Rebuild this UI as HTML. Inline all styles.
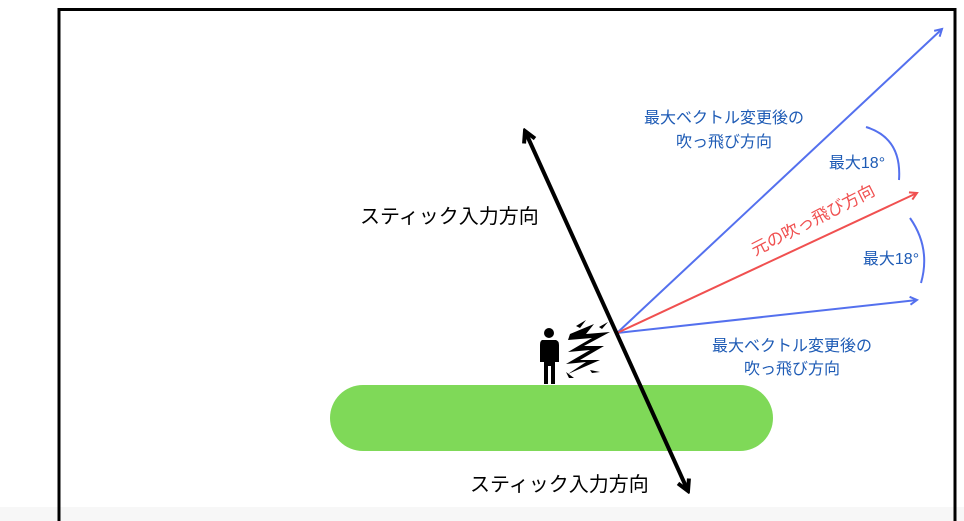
<!DOCTYPE html>
<html><head><meta charset="utf-8"><style>
html,body{margin:0;padding:0;background:#fff;}
svg{display:block;font-family:"Liberation Sans","Noto Sans CJK JP",sans-serif;}
</style></head><body>
<svg width="964" height="521" viewBox="0 0 964 521" xmlns="http://www.w3.org/2000/svg">
<defs>
<marker id="bh" markerWidth="10" markerHeight="10" refX="8" refY="5" orient="auto" markerUnits="userSpaceOnUse"><path d="M1,1 L8,5 L1,9" fill="none" stroke="#5470ee" stroke-width="2"/></marker>
<marker id="rh" markerWidth="10" markerHeight="10" refX="8" refY="5" orient="auto" markerUnits="userSpaceOnUse"><path d="M1,1 L8,5 L1,9" fill="none" stroke="#f05050" stroke-width="2"/></marker>
<marker id="kh" markerWidth="16" markerHeight="16" refX="13" refY="8" orient="auto-start-reverse" markerUnits="userSpaceOnUse"><path d="M2,2 L13,8 L2,14" fill="none" stroke="#000" stroke-width="4"/></marker>
</defs>
<rect x="0" y="507" width="964" height="14" fill="#f7f7f7"/>
<path d="M59,521 V9.5 H955 V521" fill="none" stroke="#000" stroke-width="3"/>
<rect x="330" y="385" width="443" height="66" rx="33" fill="#7fd958"/>
<g fill="#000">
<circle cx="549" cy="333" r="5"/>
<path d="M542,340 H556 Q559,341 559,345 V362 H555 V384 H551 V366 H548 V384 H544 V362 H540 V345 Q540,341 542,340Z"/>
<path d="M570,334 L594,324 L586,334 L610,332 L584,346 L604,346 L580,360 L600,360 L568,374 L586,362 L566,364 L590,350 L568,352 L592,338 L568,340Z"/>
<path d="M576,326 L586,320 L580,328Z M599,327 L608,322 L602,329Z M566,372 L574,378 L569,378Z M590,370 L600,372 L592,373Z"/>
</g>
<line x1="617" y1="333" x2="942" y2="29" stroke="#5470ee" stroke-width="2" marker-end="url(#bh)"/>
<line x1="617" y1="333" x2="917" y2="300" stroke="#5470ee" stroke-width="2" marker-end="url(#bh)"/>
<line x1="617" y1="333" x2="917" y2="193" stroke="#f05050" stroke-width="2" marker-end="url(#rh)"/>
<path d="M866,127 Q902,138 899,180" fill="none" stroke="#5470ee" stroke-width="2"/>
<path d="M910,218 Q931,248 921,283" fill="none" stroke="#5470ee" stroke-width="2"/>
<line x1="525" y1="131" x2="688" y2="491" stroke="#000" stroke-width="4" marker-start="url(#kh)" marker-end="url(#kh)"/>
<g fill="#1e5bb5" font-size="16" text-anchor="middle">
<text x="724" y="123">最大ベクトル変更後の</text>
<text x="724" y="147">吹っ飛び方向</text>
<text x="792" y="351">最大ベクトル変更後の</text>
<text x="792" y="374">吹っ飛び方向</text>
<text x="857" y="168">最大18°</text>
<text x="891" y="264">最大18°</text>
</g>
<text x="0" y="0" fill="#f05050" font-size="17" transform="translate(755,256) rotate(-27)">元の吹っ飛び方向</text>
<g fill="#000" font-size="20">
<text x="360" y="223">スティック入力方向</text>
<text x="470" y="491">スティック入力方向</text>
</g>
</svg>
</body></html>
